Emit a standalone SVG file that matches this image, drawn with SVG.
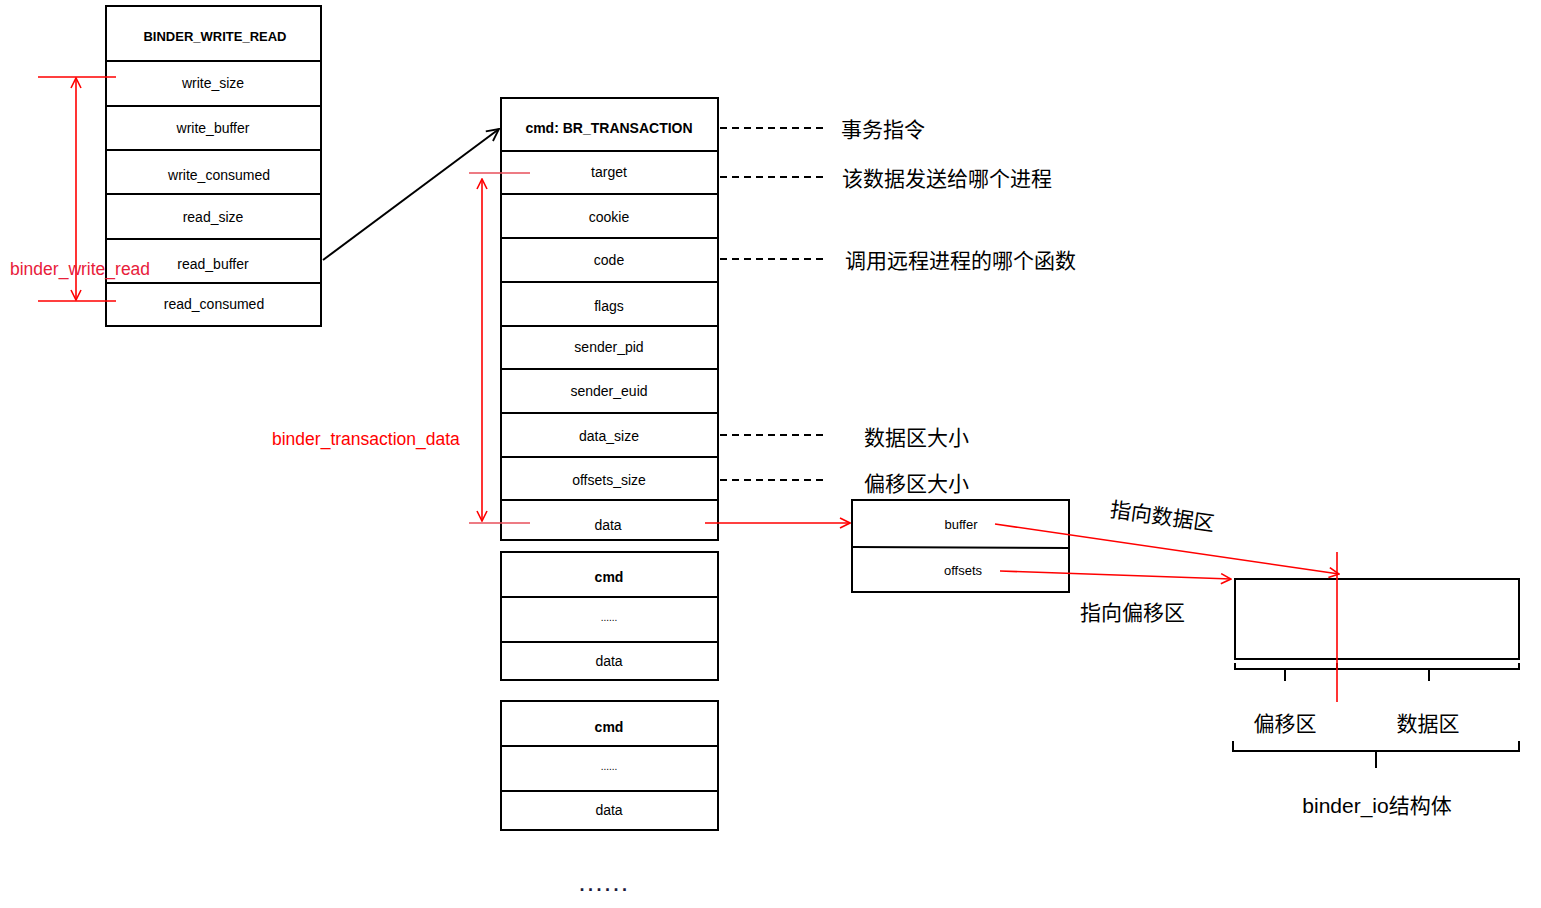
<svg xmlns="http://www.w3.org/2000/svg" width="1541" height="908" viewBox="0 0 1541 908">
<style>
.box{fill:#fff;stroke:#000;stroke-width:2}
.ln{stroke:#000;stroke-width:2;fill:none}
.t{font-family:"Liberation Sans",Arial,sans-serif;font-size:14px;fill:#000;text-anchor:middle;dominant-baseline:central}
.b{font-weight:bold}
.red{stroke:#f00;stroke-width:1.6;fill:none}
.pink{stroke:#e8505b;stroke-width:1.4;fill:none}
.rt{font-family:"Liberation Sans",Arial,sans-serif;font-size:17.5px;fill:#f00;dominant-baseline:central}
.cn{font-family:"Noto Sans CJK SC",sans-serif;font-size:21px;fill:#000;dominant-baseline:central}
.dash{stroke:#000;stroke-width:2;stroke-dasharray:7 5;fill:none}
</style>
<defs>
<marker id="ar" viewBox="0 0 12 12" refX="11" refY="6" markerWidth="12" markerHeight="12" markerUnits="userSpaceOnUse" orient="auto-start-reverse"><path d="M1,1 L11,6 L1,11" fill="none" stroke="#f00" stroke-width="1.6"/></marker>
<marker id="ak" viewBox="0 0 14 14" refX="13" refY="7" markerWidth="14" markerHeight="14" markerUnits="userSpaceOnUse" orient="auto"><path d="M1,1 L13,7 L1,13" fill="none" stroke="#000" stroke-width="1.8"/></marker>
</defs>

<g id="binder_write_read">
<rect class="box" x="106" y="6" width="215" height="320"/>
<path class="ln" d="M106,61H321M106,106H321M106,150H321M106,194H321M106,239H321M106,283H321"/>
<text class="t b" x="215" y="36" style="font-size:13px">BINDER_WRITE_READ</text>
<text class="t" x="213" y="83">write_size</text>
<text class="t" x="213" y="128">write_buffer</text>
<text class="t" x="219" y="175">write_consumed</text>
<text class="t" x="213" y="217">read_size</text>
<text class="t" x="213" y="264">read_buffer</text>
<text class="t" x="214" y="304">read_consumed</text>
</g>

<g id="bwr_annotation">
<path class="red" d="M38,77H116M38,301H116" stroke="#d00"/>
<line class="red" x1="76" y1="78" x2="76" y2="300" marker-start="url(#ar)" marker-end="url(#ar)"/>
<text class="rt" x="10" y="269" style="fill:#e8203a">binder_write_read</text>
</g>

<g id="binder_transaction_data">
<rect class="box" x="501" y="98" width="217" height="442"/>
<path class="ln" d="M501,151H718M501,194H718M501,238H718M501,282H718M501,326H718M501,369H718M501,413H718M501,457H718M501,500H718"/>
<text class="t b" x="609" y="128">cmd: BR_TRANSACTION</text>
<text class="t" x="609" y="172">target</text>
<text class="t" x="609" y="217">cookie</text>
<text class="t" x="609" y="260">code</text>
<text class="t" x="609" y="306">flags</text>
<text class="t" x="609" y="347">sender_pid</text>
<text class="t" x="609" y="391">sender_euid</text>
<text class="t" x="609" y="436">data_size</text>
<text class="t" x="609" y="480">offsets_size</text>
<text class="t" x="608" y="525">data</text>
</g>

<g id="btd_annotation">
<path class="pink" d="M469,173H530M469,523H530"/>
<line class="red" x1="482" y1="179" x2="482" y2="521" marker-start="url(#ar)" marker-end="url(#ar)"/>
<text class="rt" x="272" y="439">binder_transaction_data</text>
</g>

<g id="cmd_block_2">
<rect class="box" x="501" y="552" width="217" height="128"/>
<path class="ln" d="M501,597H718M501,642H718"/>
<text class="t b" x="609" y="577">cmd</text>
<text class="t" x="609" y="617" style="font-size:10px">......</text>
<text class="t" x="609" y="661">data</text>
</g>

<g id="cmd_block_3">
<rect class="box" x="501" y="701" width="217" height="129"/>
<path class="ln" d="M501,746H718M501,791H718"/>
<text class="t b" x="609" y="727">cmd</text>
<text class="t" x="609" y="766" style="font-size:10px">......</text>
<text class="t" x="609" y="810">data</text>
</g>

<g id="more">
<text class="t b" x="605" y="885" style="font-size:18px;fill:#1a1a3a;letter-spacing:3.5px">......</text>
</g>

<g id="binder_io_ptr">
<rect class="box" x="852" y="500" width="217" height="92"/>
<line class="ln" x1="852" y1="547" x2="1069" y2="548"/>
<text class="t" x="961" y="524" style="font-size:13px">buffer</text>
<text class="t" x="963" y="570" style="font-size:13px">offsets</text>
</g>

<g id="binder_io">
<rect class="box" x="1235" y="579" width="284" height="80"/>
<path class="ln" d="M1235,663V669H1519V663M1337,669V663M1285,669V681M1429,669V681"/>
<path class="ln" d="M1233,741V751H1519V741M1376,751V768"/>
<text class="cn" x="1285" y="722" text-anchor="middle">偏移区</text>
<text class="cn" x="1428" y="722" text-anchor="middle">数据区</text>
<text class="cn" x="1377" y="805" text-anchor="middle" style="font-family:'Liberation Sans','Noto Sans CJK SC',sans-serif;font-size:21px">binder_io结构体</text>
</g>

<g id="labels">
<text class="cn" x="841" y="128">事务指令</text>
<text class="cn" x="842" y="177">该数据发送给哪个进程</text>
<text class="cn" x="845" y="259">调用远程进程的哪个函数</text>
<text class="cn" x="864" y="436">数据区大小</text>
<text class="cn" x="864" y="482">偏移区大小</text>
<text class="cn" x="1110" y="515" transform="rotate(8 1163 515)">指向数据区</text>
<text class="cn" x="1080" y="611">指向偏移区</text>
</g>

<g id="connectors">
<line class="ln" x1="323" y1="260" x2="499" y2="129" stroke-width="1.8" marker-end="url(#ak)"/>
<path class="dash" d="M720,128H826M720,177H826M720,259H826M720,435H826M720,480H826"/>
<line class="red" x1="705" y1="523" x2="850" y2="523" marker-end="url(#ar)"/>
<line class="red" x1="995" y1="524" x2="1339" y2="574" marker-end="url(#ar)"/>
<line class="red" x1="1000" y1="571" x2="1231" y2="579" marker-end="url(#ar)"/>
<line class="red" x1="1337" y1="552" x2="1337" y2="702"/>
</g>
</svg>
